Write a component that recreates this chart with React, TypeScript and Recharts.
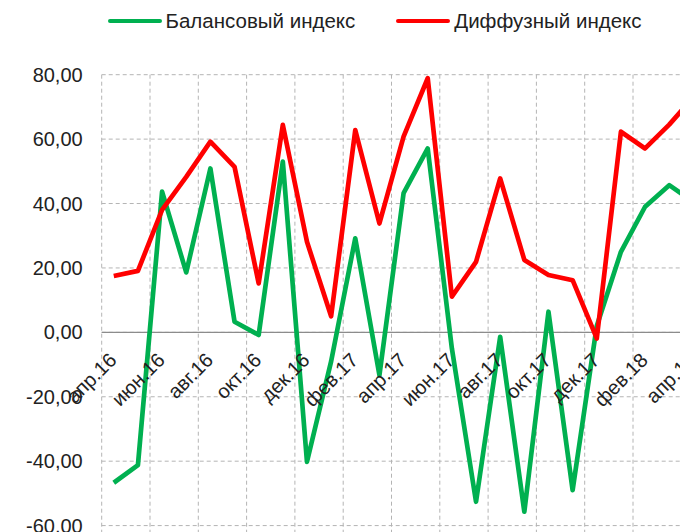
import React from "react";
import {
  LineChart,
  Line,
  XAxis,
  YAxis,
  CartesianGrid,
  ReferenceLine,
  Legend,
} from "recharts";

const months = [
  "апр.16", "май.16", "июн.16", "июл.16", "авг.16", "сен.16", "окт.16", "ноя.16", "дек.16",
  "янв.17", "фев.17", "мар.17", "апр.17", "май.17", "июн.17", "июл.17", "авг.17", "сен.17",
  "окт.17", "ноя.17", "дек.17", "янв.18", "фев.18", "мар.18", "апр.18",
];

const balance = [
  -46.7, -41.2, 43.7, 18.6, 50.9, 3.3, -0.8, 53.0, -40.2, -9.0, 29.2, -13.3, 43.2, 57.1,
  -5.0, -52.6, -1.4, -55.7, 6.4, -49.0, 2.0, 25.0, 39.0, 45.7, 40.5,
];

const diffusion = [
  17.5, 19.1, 38.0, 48.3, 59.2, 51.4, 15.2, 64.4, 28.1, 5.0, 62.8, 33.8, 60.8, 78.9,
  11.1, 21.9, 47.8, 22.5, 17.8, 16.2, -1.9, 62.3, 57.1, 64.5, 73.0,
];

const yTicks = [-80, -60, -40, -20, 0, 20, 40, 60, 80];
const seriesNames = ["Балансовый индекс", "Диффузный индекс"];
const seriesColors = ["#00B050", "#FF0000"];

const data = months.map((m, i) => ({ i, month: m, bal: balance[i], dif: diffusion[i] }));
const labelTicks = months.map((_, i) => i).filter((i) => i % 2 === 0);
const gridTicks = months.map((_, i) => i - 0.5).filter((_, i) => i % 2 === 0);

const FONT = "'Liberation Sans', Arial, sans-serif";
const W = 700;
const H = 590;
const X_H = 8;
const M = { top: 66.7, right: 2.55, bottom: 0, left: 0 };
const Y_W = 93.7;
const PLOT_H = H - M.top - M.bottom - X_H;
const ZERO_Y = M.top + (PLOT_H * 80) / 160;

const MonthTick = (props: any) => {
  const { x, payload } = props;
  const label = months[Math.round(payload.value)];
  return (
    <g transform={`translate(${x + 4},${ZERO_Y + 29})`}>
      <text
        transform="rotate(-45)"
        textAnchor="end"
        fontSize={20}
        fontFamily={FONT}
        fill="#222"
      >
        {label}
      </text>
    </g>
  );
};

const LegendContent = () => (
  <div
    style={{
      display: "flex",
      alignItems: "center",
      height: 26,
      paddingLeft: 99.5,
      fontFamily: FONT,
      fontSize: 20.5,
      color: "#222",
      whiteSpace: "nowrap",
    }}
  >
    {seriesNames.map((n, k) => (
      <div key={n} style={{ display: "flex", alignItems: "center", marginRight: 41 }}>
        <span
          style={{
            display: "inline-block",
            width: 54,
            height: 4.5,
            borderRadius: 2.5,
            background: seriesColors[k],
            marginRight: 4,
          }}
        />
        <span>{n}</span>
      </div>
    ))}
  </div>
);

export default function App() {
  return (
    <div style={{ width: 680, height: 524, overflow: "hidden", position: "relative" }}>
      <LineChart width={W} height={H} data={data} margin={M}>
        <CartesianGrid
          xAxisId="g"
          stroke="#B4B4B4"
          strokeDasharray="4 3"
        />
        <XAxis
          xAxisId="g"
          type="number"
          dataKey="i"
          domain={[-0.5, months.length - 0.5]}
          ticks={gridTicks}
          hide
        />
        <XAxis
          xAxisId="lab"
          type="number"
          dataKey="i"
          domain={[-0.5, months.length - 0.5]}
          ticks={labelTicks}
          interval={0}
          height={X_H}
          axisLine={false}
          tickLine={false}
          tick={(p: any) => <MonthTick {...p} />}
        />
        <YAxis
          domain={[-80, 80]}
          ticks={yTicks}
          width={Y_W}
          axisLine={false}
          tickLine={false}
          tickSize={0}
          tickMargin={19}
          interval={0}
          tickFormatter={(v: number) => v.toFixed(2).replace(".", ",")}
          tick={{ fontSize: 20, fontFamily: FONT, fill: "#222" }}
        />
        <ReferenceLine xAxisId="lab" y={0} stroke="#8C8C8C" strokeWidth={1.2} />
        <Legend
          layout="vertical"
          align="center"
          verticalAlign="middle"
          wrapperStyle={{ top: 0, left: 0, width: 680 }}
          content={<LegendContent />}
        />
        <Line
          xAxisId="lab"
          type="linear"
          dataKey="bal"
          name={seriesNames[0]}
          stroke={seriesColors[0]}
          strokeWidth={4.7}
          dot={false}
          activeDot={false}
          strokeLinejoin="round"
          isAnimationActive={false}
        />
        <Line
          xAxisId="lab"
          type="linear"
          dataKey="dif"
          name={seriesNames[1]}
          stroke={seriesColors[1]}
          strokeWidth={4.7}
          dot={false}
          activeDot={false}
          strokeLinejoin="round"
          isAnimationActive={false}
        />
      </LineChart>
    </div>
  );
}
